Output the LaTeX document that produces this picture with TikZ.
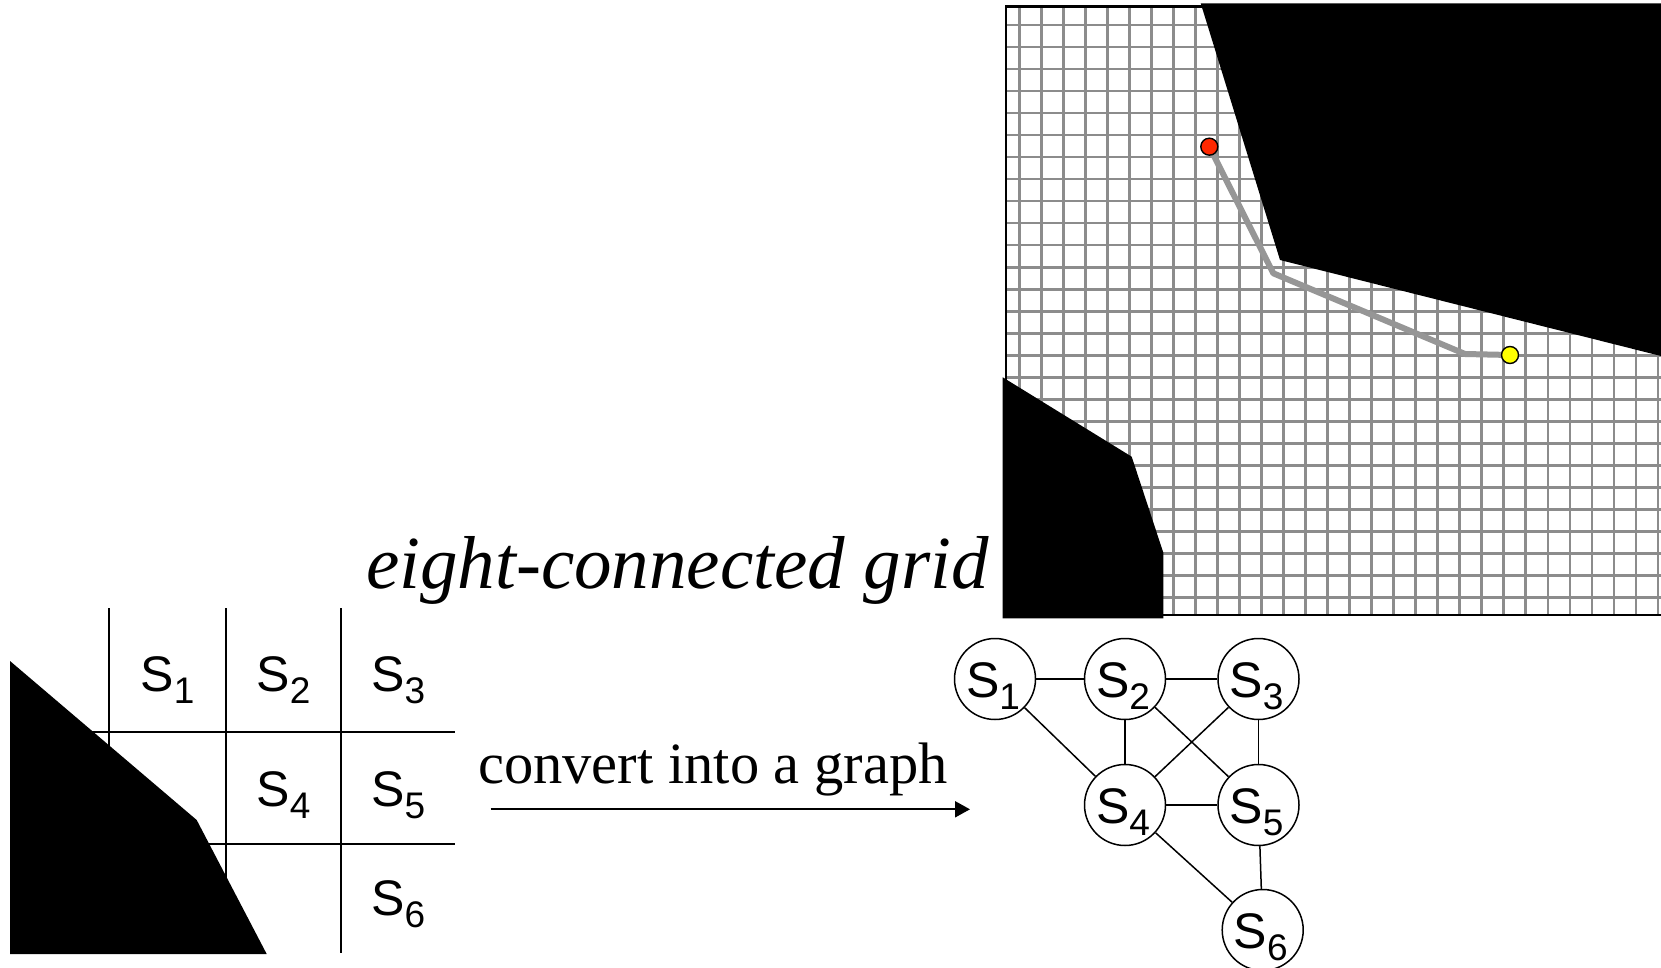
\documentclass[tikz,border=0pt]{standalone}
\usepackage{fontspec}
\setmainfont{Liberation Serif}
\newfontfamily\arialf{Liberation Sans}
\usetikzlibrary{arrows.meta}
\newcommand\Ssub[1]{S\raisebox{-12pt}{\fontsize{37}{37}\selectfont #1}}
\begin{document}
\begin{tikzpicture}[x=1pt,y=-1pt,
  gridline/.style={draw={rgb,255:red,140;green,140;blue,140}, line width=2.6pt},
  border/.style={draw=black, line width=2.4pt},
  obstacle/.style={fill=black, draw=none},
  pathline/.style={draw={rgb,255:red,150;green,150;blue,150}, line width=6pt, line join=round},
  dot/.style={circle, draw=black, line width=1.4pt, minimum size=17pt, inner sep=0pt},
  cellline/.style={draw=black, line width=1.8pt},
  slbl/.style={font=\arialf\fontsize{50}{60}\selectfont, inner sep=0pt, anchor=base},
  state/.style={circle, draw=black, line width=1.5pt, minimum size=81pt, inner sep=0pt},
  edge/.style={draw=black, line width=1.5pt},
  arrowline/.style={draw=black, line width=2pt, -{Triangle[length=15pt, width=16pt]}}
]
\useasboundingbox (0,0) rectangle (1661,968);
\fill[white] (0,0) rectangle (1661,968);

% ---------- right: eight-connected grid ----------
\foreach \i in {0,...,29}
  \draw[gridline] ({1019.3+22.02*\i},6.7) -- ({1019.3+22.02*\i},614.7);
\foreach \j in {0,...,26}
  \draw[gridline] (1005.7,{25+22.02*\j}) -- (1661,{25+22.02*\j});
\draw[border] (1661,6.7) -- (1005.7,6.7) -- (1005.7,614.7) -- (1661,614.7);

\fill[obstacle] (1200.7,3.3) -- (1661,3.3) -- (1661,356) -- (1280,260) -- cycle;
\fill[obstacle] (1002.7,377.3) -- (1131.7,456.7) -- (1163.3,552.7) -- (1163.3,618.3) -- (1002.7,618.3) -- cycle;

\coordinate (start) at (1209.3,146.7);
\coordinate (goal) at (1510,355);
\coordinate (p1) at (1273.3,273.3);
\coordinate (p2) at (1465,354);
\draw[pathline] (start) -- (p1) -- (p2) -- (goal);
\node[dot, fill={rgb,255:red,255;green,40;blue,0}] (startdot) at (start) {};
\node[dot, fill={rgb,255:red,255;green,255;blue,0}] (goaldot) at (goal) {};

\node[font=\itshape\fontsize{75}{90}\selectfont, inner sep=0pt, anchor=base west] (title) at (366,588) {eight-connected grid};

% ---------- left: cells ----------
\foreach \x in {109.3,225.7,341.3}
  \draw[cellline] (\x,608.3) -- (\x,953.3);
\foreach \y in {732.3,844.3}
  \draw[cellline] (90,\y) -- (455,\y);
\fill[obstacle] (10,661) -- (196.7,820) -- (266.7,954) -- (10,954) -- cycle;

\node[slbl] (c1) at (167.5,691.7) {\Ssub{1}};
\node[slbl] (c2) at (283.5,691.7) {\Ssub{2}};
\node[slbl] (c3) at (398.3,691.7) {\Ssub{3}};
\node[slbl] (c4) at (283.5,806.7) {\Ssub{4}};
\node[slbl] (c5) at (398.3,806.7) {\Ssub{5}};
\node[slbl] (c6) at (398.3,915) {\Ssub{6}};

% ---------- arrow ----------
\coordinate (arrS) at (490.7,809.3);
\coordinate (arrE) at (970,809.3);
\draw[arrowline] (arrS) -- (arrE);
\node[font=\fontsize{58.5}{70}\selectfont, inner sep=0pt, anchor=base west] (conv) at (478,783.3) {convert into a graph};

% ---------- graph ----------
\node[state] (s1) at (995,679) {};
\node[state] (s2) at (1125,679) {};
\node[state] (s3) at (1258.5,679) {};
\node[state] (s4) at (1125,805) {};
\node[state] (s5) at (1258.5,805) {};
\node[state] (s6) at (1262.7,930) {};
\foreach \k in {1,...,6}
  \node[slbl] (l\k) at ([xshift=-2pt,yshift=-18pt]s\k.center) {\Ssub{\k}};
\draw[edge] (s1) -- (s2);
\draw[edge] (s2) -- (s3);
\draw[edge] (s1) -- (s4);
\draw[edge] (s2) -- (s4);
\draw[edge] (s2) -- (s5);
\draw[edge] (s3) -- (s4);
\draw[edge] (s3) -- (s5);
\draw[edge] (s4) -- (s5);
\draw[edge] (s4) -- (s6);
\draw[edge] (s5) -- (s6);
\end{tikzpicture}
\end{document}
